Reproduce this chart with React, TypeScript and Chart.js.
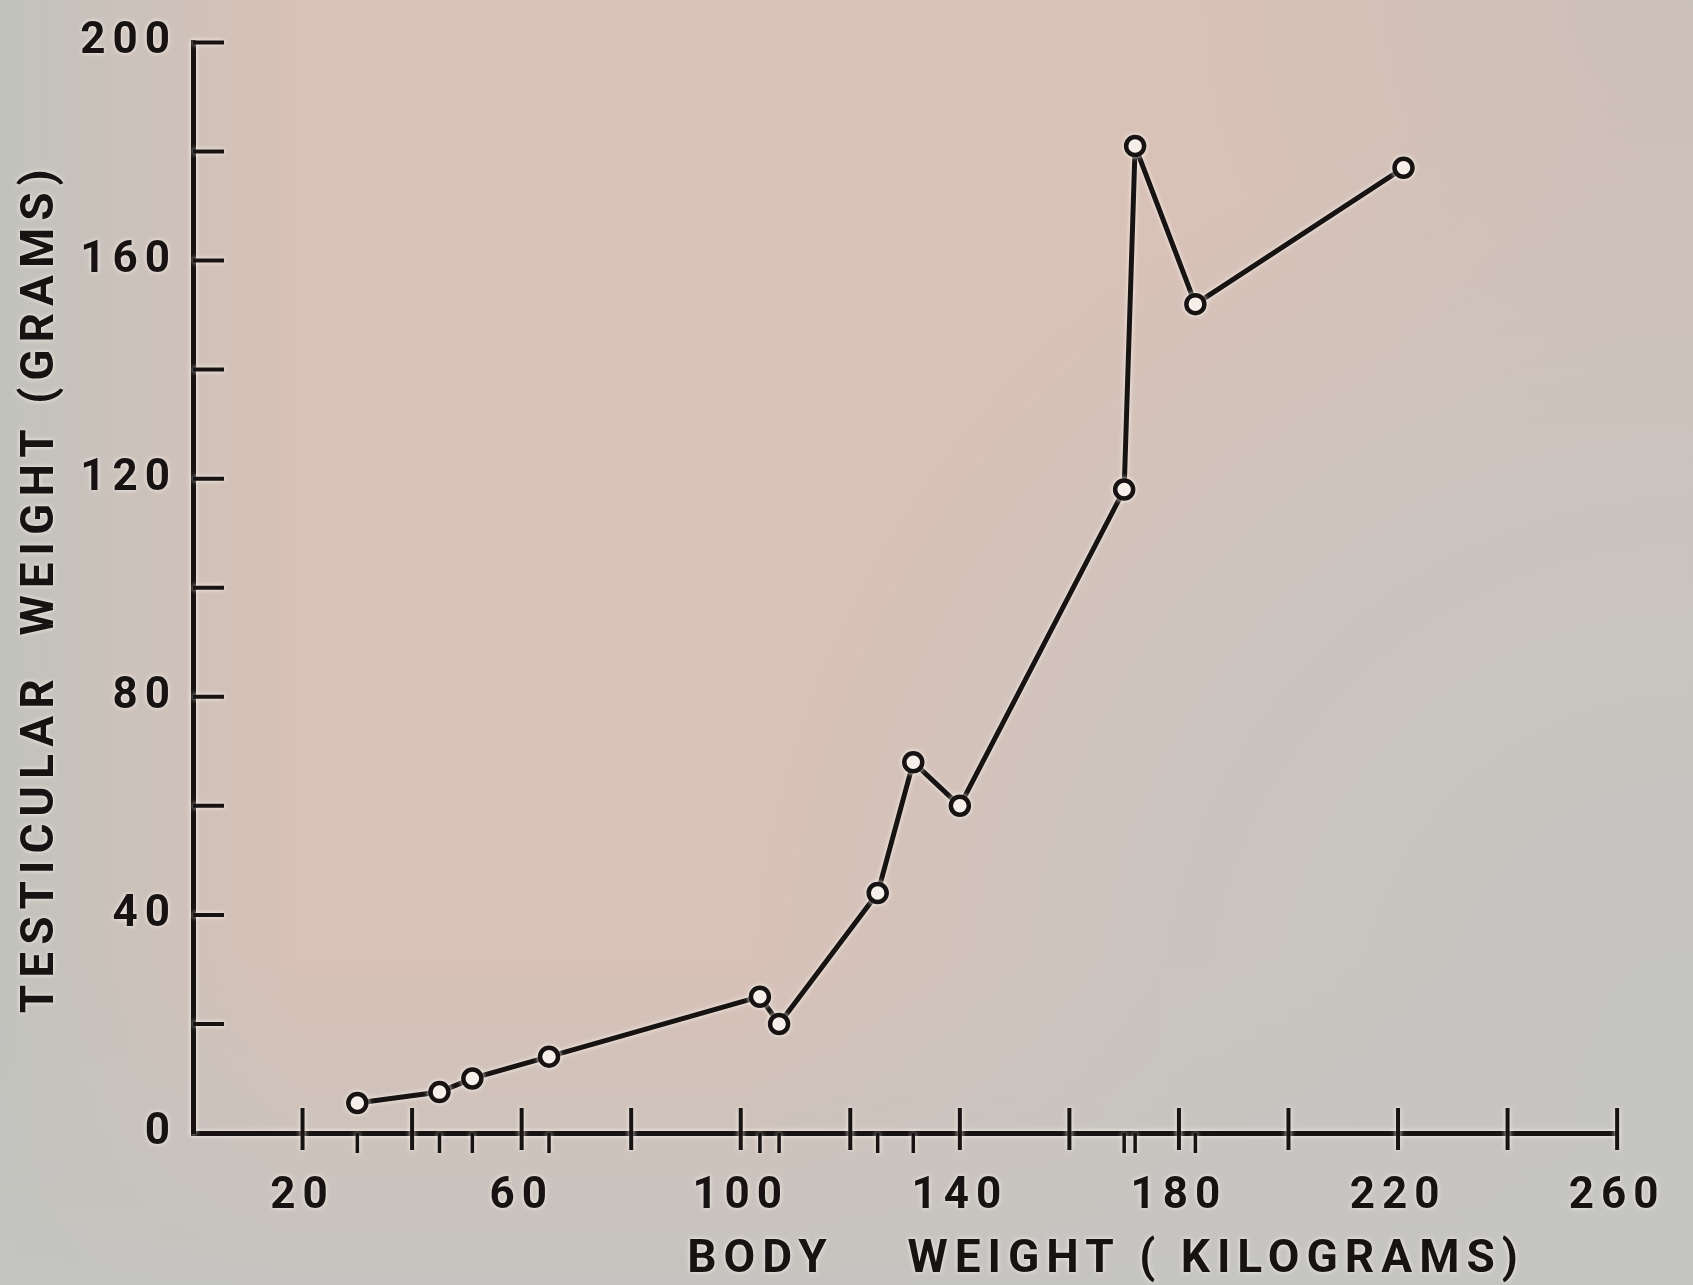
import React, { useEffect, useRef } from 'react';
import { Chart, registerables } from 'chart.js';

Chart.register(...registerables);

// ---- data ----
const bodyWeightKg = [30, 45, 51, 65, 103.5, 107, 125, 131.5, 140, 170, 172, 183, 221];
const testicularWeightG = [5.5, 7.5, 10, 14, 25, 20, 44, 68, 60, 118, 181, 152, 177];

const xMajorTicks = [20, 40, 60, 80, 100, 120, 140, 160, 180, 200, 220, 240, 260];
const xTickLabels = [20, 60, 100, 140, 180, 220, 260];
const yTicks = [20, 40, 60, 80, 100, 120, 140, 160, 180, 200];
const yTickLabels = [0, 40, 80, 120, 160, 200];

const xAxisTitle = 'BODY    WEIGHT ( KILOGRAMS)\u00A0\u00A0\u00A0\u00A0\u00A0';
const yAxisTitle = 'TESTICULAR  WEIGHT (GRAMS)';

const INK = '#171312';
const FONT = 'Roboto, "DejaVu Sans", sans-serif';

export default function App() {
  const ref = useRef<HTMLCanvasElement | null>(null);

  useEffect(() => {
    const canvas = ref.current;
    if (!canvas) return;

    const paperPlugin = {
      id: 'paperBackground',
      beforeDraw(chart: any) {
        const { ctx, width, height } = chart;
        ctx.save();
        ctx.fillStyle = '#d8c1b7';
        ctx.fillRect(0, 0, width, height);
        const gl = ctx.createLinearGradient(0, 0, 300, 0);
        gl.addColorStop(0, 'rgba(192,194,189,0.95)');
        gl.addColorStop(1, 'rgba(192,194,189,0)');
        ctx.fillStyle = gl;
        ctx.fillRect(0, 0, width, height);
        const gb = ctx.createLinearGradient(0, height, 0, height - 330);
        gb.addColorStop(0, 'rgba(196,196,192,0.95)');
        gb.addColorStop(1, 'rgba(196,196,192,0)');
        ctx.fillStyle = gb;
        ctx.fillRect(0, 0, width, height);
        const gr = ctx.createRadialGradient(width, height * 0.8, 0, width, height * 0.8, 950);
        gr.addColorStop(0, 'rgba(197,197,194,1)');
        gr.addColorStop(0.55, 'rgba(197,197,194,0.75)');
        gr.addColorStop(1, 'rgba(197,197,194,0)');
        ctx.fillStyle = gr;
        ctx.fillRect(0, 0, width, height);
        const gt = ctx.createRadialGradient(width, 0, 0, width, 0, 500);
        gt.addColorStop(0, 'rgba(200,192,186,0.8)');
        gt.addColorStop(1, 'rgba(200,192,186,0)');
        ctx.fillStyle = gt;
        ctx.fillRect(0, 0, width, height);
        ctx.restore();
        (ctx as any).letterSpacing = '7px';
        ctx.shadowColor = 'rgba(255,250,244,0.9)';
        ctx.shadowBlur = 5;
      },
      afterDraw(chart: any) {
        const ctx = chart.ctx;
        (ctx as any).letterSpacing = '0px';
        ctx.shadowColor = 'rgba(0,0,0,0)';
        ctx.shadowBlur = 0;
      },
    };

    const tickMarksPlugin = {
      id: 'axisTickMarks',
      beforeDatasetsDraw(chart: any) {
        const { ctx, chartArea, scales } = chart;
        const xs = scales.x;
        const ys = scales.y;
        const axisY = chartArea.bottom;
        const axisX = chartArea.left;
        ctx.save();
        ctx.strokeStyle = INK;
        ctx.lineCap = 'butt';
        ctx.lineWidth = 4;
        ctx.beginPath();
        for (const v of xMajorTicks) {
          const px = xs.getPixelForValue(v);
          ctx.moveTo(px, axisY - 25);
          ctx.lineTo(px, axisY + 17);
        }
        for (const v of yTicks) {
          const py = ys.getPixelForValue(v);
          ctx.moveTo(axisX, py);
          ctx.lineTo(axisX + 31, py);
        }
        ctx.stroke();
        ctx.lineWidth = 3.5;
        ctx.beginPath();
        for (const v of bodyWeightKg) {
          if (xMajorTicks.some((m) => Math.abs(m - v) < 1.5)) continue;
          const px = xs.getPixelForValue(v);
          ctx.moveTo(px, axisY);
          ctx.lineTo(px, axisY + 20);
        }
        ctx.stroke();
        ctx.restore();
      },
    };

    const tickFont = { family: FONT, size: 44, weight: 'bold' };
    const titleFont = { family: FONT, size: 46, weight: 'bold' };

    const chart = new Chart(canvas, {
      type: 'line',
      data: {
        datasets: [
          {
            data: bodyWeightKg.map((x, i) => ({ x, y: testicularWeightG[i] })),
            borderColor: INK,
            borderWidth: 5,
            tension: 0,
            pointRadius: 9,
            pointBorderWidth: 4.5,
            pointBorderColor: INK,
            pointBackgroundColor: '#f4eee8',
            clip: false as any,
          },
        ],
      },
      options: {
        animation: false,
        responsive: false,
        devicePixelRatio: 1,
        layout: { padding: { left: 0, top: 38, right: 73, bottom: 0 } },
        plugins: { legend: { display: false }, tooltip: { enabled: false } },
        scales: {
          x: {
            type: 'linear',
            min: 0,
            max: 260,
            grid: { display: false, drawTicks: false },
            border: { display: true, color: INK, width: 5 },
            ticks: {
              stepSize: 20,
              autoSkip: false,
              maxRotation: 0,
              padding: 38,
              color: INK,
              font: tickFont,
              callback: (v: any) => (xTickLabels.includes(Number(v)) ? String(v) : ''),
            },
            title: {
              display: true,
              text: xAxisTitle,
              align: 'end',
              color: INK,
              font: titleFont,
              padding: { top: 0, bottom: -3 },
            },
            afterFit: (scale: any) => {
              scale.height = 152;
            },
          },
          y: {
            type: 'linear',
            min: 0,
            max: 200,
            grid: { display: false, drawTicks: false },
            border: { display: true, color: INK, width: 5 },
            ticks: {
              stepSize: 20,
              autoSkip: false,
              padding: 16,
              color: INK,
              font: tickFont,
              callback: (v: any) => (yTickLabels.includes(Number(v)) ? String(v) : ''),
            },
            title: {
              display: true,
              text: yAxisTitle,
              align: 'center',
              color: INK,
              font: titleFont,
              padding: { top: 14, bottom: 0 },
            },
            afterFit: (scale: any) => {
              scale.width = 193;
            },
          },
        },
      },
      plugins: [paperPlugin, tickMarksPlugin],
    } as any);

    return () => chart.destroy();
  }, []);

  return (
    <div style={{ position: 'fixed', left: 0, top: 0, width: 1693, height: 1285 }}>
      <canvas ref={ref} width={1693} height={1285} style={{ display: 'block' }} />
    </div>
  );
}
